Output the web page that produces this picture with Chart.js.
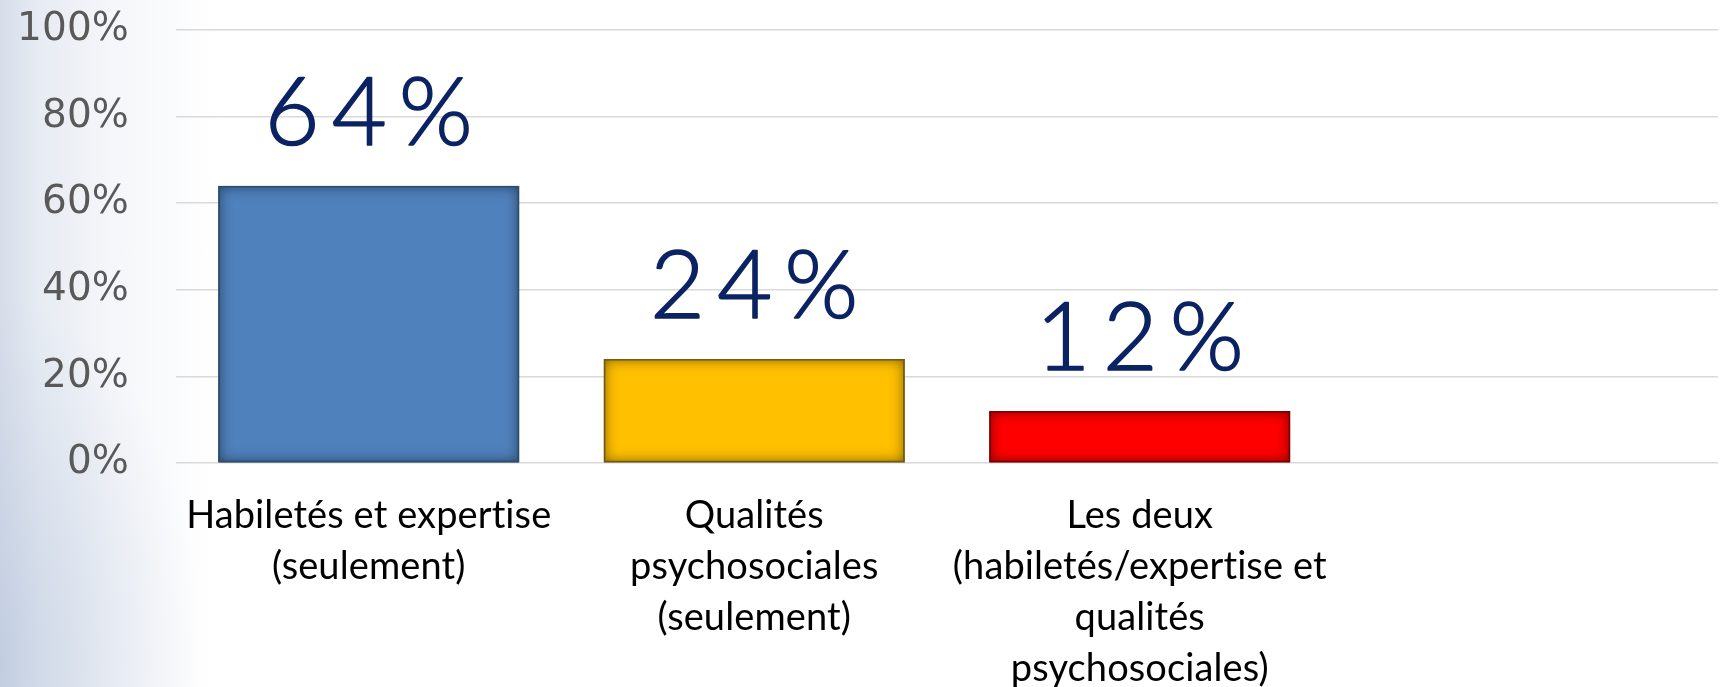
<!DOCTYPE html>
<html>
<head>
<meta charset="utf-8">
<script src="https://cdn.jsdelivr.net/npm/chart.js@4.4.1/dist/chart.umd.min.js"></script>
<style>
  html, body { margin: 0; padding: 0; }
  body {
    width: 1723px; height: 687px; overflow: hidden;
    background:
      radial-gradient(ellipse 200px 360px at 0px 660px, rgba(170,186,214,0.45), rgba(170,186,214,0) 100%),
      linear-gradient(to right, #d6dde9 0px, #e7ecf3 40px, #f4f6f9 110px, #ffffff 220px);
  }
  #wrap { position: absolute; left: 0; top: 0; width: 1723px; height: 687px; }
</style>
</head>
<body>
<div id="wrap"><canvas id="c" width="1723" height="687"></canvas></div>
<script>
// ---- data ----
const categories = [
  ["Habiletés et expertise", "(seulement)"],
  ["Qualités", "psychosociales", "(seulement)"],
  ["Les deux", "(habiletés/expertise et", "qualités", "psychosociales)"],
  ""
];
const values = [64, 24, 12];
const barColors = ["#4F81BD", "#FFC000", "#FF0000"];
const barBorders = ["#2E4A6E", "#6E5A18", "#7A0000"];
const yTicks = [0, 20, 40, 60, 80, 100];

// disable ligatures (e.g. "ti") in all canvas text
const noLigatures = {
  id: 'noLigatures',
  beforeDraw(chart) {
    try { chart.ctx.letterSpacing = '0.1px'; } catch (e) {}
  }
};

// inner shading + value labels
const barDecor = {
  id: 'barDecor',
  afterDatasetsDraw(chart) {
    const ctx = chart.ctx;
    const meta = chart.getDatasetMeta(0);
    meta.data.forEach((bar, i) => {
      if (values[i] == null) return;
      const p = bar.getProps(['x', 'y', 'base', 'width'], true);
      const l = p.x - p.width / 2, r = p.x + p.width / 2;
      const t = Math.min(p.y, p.base), b = Math.max(p.y, p.base);
      ctx.save();
      ctx.beginPath();
      ctx.rect(l, t, r - l, b - t);
      ctx.clip();
      ctx.shadowColor = 'rgba(0,0,0,0.55)';
      ctx.shadowBlur = 14;
      ctx.lineWidth = 20;
      ctx.strokeStyle = 'rgba(0,0,0,1)';
      ctx.strokeRect(l - 10, t - 10, (r - l) + 20, (b - t) + 20);
      ctx.restore();
      ctx.save();
      ctx.lineWidth = 1.5;
      ctx.strokeStyle = barBorders[i];
      ctx.strokeRect(l + 0.75, t + 0.75, r - l - 1.5, b - t - 1.5);
      ctx.restore();
      ctx.save();
      ctx.font = '300 95px Lato';
      ctx.fillStyle = '#0B2263';
      ctx.strokeStyle = '#0B2263';
      ctx.lineWidth = 1.6;
      ctx.lineJoin = 'round';
      ctx.textAlign = 'center';
      ctx.textBaseline = 'alphabetic';
      const ls = 12;
      try { ctx.letterSpacing = ls + 'px'; } catch (e) {}
      const txt = values[i] + '%';
      ctx.fillText(txt, p.x + ls / 2, t - 41);
      ctx.strokeText(txt, p.x + ls / 2, t - 41);
      ctx.restore();
    });
  }
};

new Chart(document.getElementById('c'), {
  type: 'bar',
  data: {
    labels: categories,
    datasets: [{
      data: values,
      backgroundColor: barColors,
      borderWidth: 0,
      barPercentage: 0.78,
      categoryPercentage: 1.0
    }]
  },
  options: {
    responsive: false,
    animation: false,
    layout: { padding: { top: 30, right: 5, left: 0, bottom: 0 } },
    plugins: { legend: { display: false }, tooltip: { enabled: false } },
    scales: {
      x: {
        grid: { display: false, drawTicks: false },
        border: { display: false },
        ticks: {
          autoSkip: false, maxRotation: 0, minRotation: 0,
          padding: 27,
          color: '#000000',
          font: { family: 'Lato', size: 38, lineHeight: 1.342 }
        },
        afterFit(axis) { axis.height = 224; }
      },
      y: {
        min: 0, max: 100,
        afterBuildTicks(axis) { axis.ticks = yTicks.map(v => ({ value: v })); },
        grid: { color: '#D9D9D9', lineWidth: 1.5, drawTicks: false },
        border: { display: false },
        ticks: {
          padding: 47,
          color: '#595959',
          font: { family: 'DejaVu Sans', size: 39 },
          callback: v => v + '%'
        },
        afterFit(axis) {
          axis.width = 176;
          axis.paddingTop = 20;
          axis.paddingBottom = 20;
        }
      }
    }
  },
  plugins: [noLigatures, barDecor]
});
</script>
</body>
</html>
